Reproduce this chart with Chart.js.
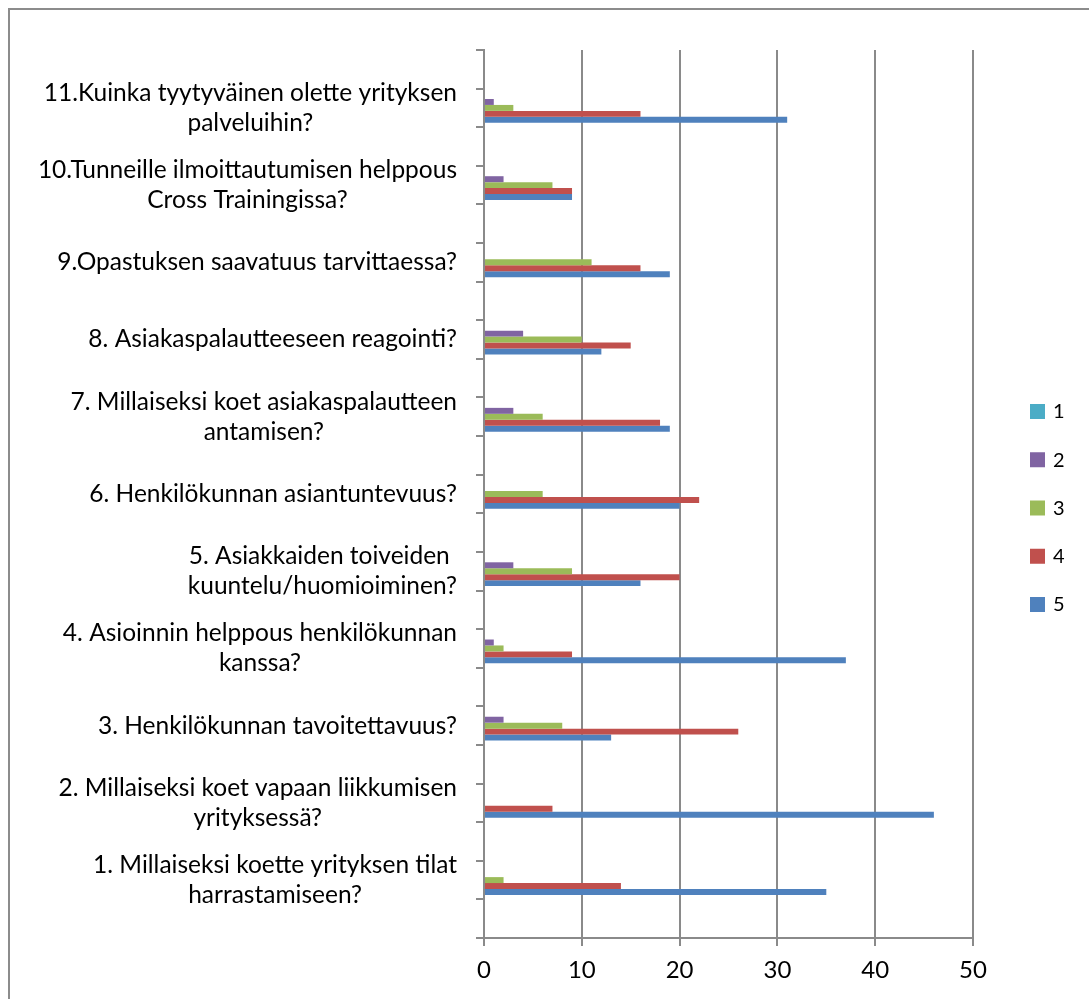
<!DOCTYPE html>
<html>
<head>
<meta charset="utf-8">
<title>Asiakastyytyväisyys</title>
<script src="https://cdn.jsdelivr.net/npm/chart.js@4.4.1/dist/chart.umd.min.js"></script>
<style>
  html, body { margin: 0; padding: 0; background: #fff; overflow: hidden; }
  canvas { position: absolute; left: 0; top: 0; }
  #frame { position: absolute; left: 8px; top: 8px; width: 1200px; height: 1200px; border: 2px solid #8c8c8c; pointer-events: none; }
</style>
</head>
<body>
<canvas id="surveyChart" width="1089" height="999"></canvas>
<div id="frame"></div>
<script>
// questions, top to bottom as they appear in the chart (11 -> 1)
const questions = [
  ["11.Kuinka tyytyväinen olette yrityksen", "palveluihin?"],
  ["10.Tunneille ilmoittautumisen helppous", "Cross Trainingissa?"],
  ["9.Opastuksen saavatuus tarvittaessa?"],
  ["8. Asiakaspalautteeseen reagointi?"],
  ["7. Millaiseksi koet asiakaspalautteen", "antamisen?"],
  ["6. Henkilökunnan asiantuntevuus?"],
  ["5. Asiakkaiden toiveiden ", "kuuntelu/huomioiminen?"],
  ["4. Asioinnin helppous henkilökunnan", "kanssa?"],
  ["3. Henkilökunnan tavoitettavuus?"],
  ["2. Millaiseksi koet vapaan liikkumisen", "yrityksessä?"],
  ["1. Millaiseksi koette yrityksen tilat", "harrastamiseen?"]
];

// answer scale 1..5, number of answers per question (same order as questions)
const answers = ["1", "2", "3", "4", "5"];
const vals1 = [0, 0, 0, 0, 0, 0, 0, 0, 0, 0, 0];
const vals2 = [1, 2, 0, 4, 3, 0, 3, 1, 2, 0, 0];
const vals3 = [3, 7, 11, 10, 6, 6, 9, 2, 8, 0, 2];
const vals4 = [16, 9, 16, 15, 18, 22, 20, 9, 26, 7, 14];
const vals5 = [31, 9, 19, 12, 19, 20, 16, 37, 13, 46, 35];

const xTicks = [0, 10, 20, 30, 40, 50];

const colors = ["#4BACC6", "#8064A2", "#9BBB59", "#C0504D", "#4F81BD"];
const gridColor = "#8a8a8a";
const font = "Lato, 'Open Sans', sans-serif";

// the source sheet had an empty row between questions,
// so every question sits in every other slot
function spaced(arr, blank) {
  const out = [blank];
  arr.forEach(v => { out.push(v); out.push(blank); });
  return out;
}

const labels = spaced(questions, "");
const series = [vals1, vals2, vals3, vals4, vals5];

// category labels: lines centred on each other, block right aligned
const questionLabels = {
  id: "questionLabels",
  afterDraw(chart) {
    const ctx = chart.ctx;
    const yScale = chart.scales.y;
    const right = 457;
    const lineH = 30;
    ctx.save();
    ctx.font = "24.5px " + font;
    ctx.fillStyle = "#000";
    ctx.textAlign = "center";
    ctx.textBaseline = "middle";
    chart.data.labels.forEach((lab, i) => {
      if (!lab) return;
      const lines = Array.isArray(lab) ? lab : [lab];
      const w = Math.max(...lines.map(l => ctx.measureText(l).width));
      const cx = right - w / 2;
      const yc = yScale.getPixelForTick(i);
      const start = yc - (lines.length - 1) * lineH / 2;
      lines.forEach((l, k) => ctx.fillText(l, cx, start + k * lineH));
    });
    ctx.restore();
  }
};

// legend on the right, Excel style
const sideLegend = {
  id: "sideLegend",
  afterDraw(chart) {
    const ctx = chart.ctx;
    ctx.save();
    ctx.font = "20px " + font;
    ctx.textAlign = "left";
    ctx.textBaseline = "middle";
    chart.data.datasets.forEach((ds, i) => {
      const top = 404 + i * 48.25;
      ctx.fillStyle = ds.backgroundColor;
      ctx.fillRect(1030, top, 15, 15);
      ctx.fillStyle = "#000";
      ctx.fillText(ds.label, 1053, top + 8);
    });
    ctx.restore();
  }
};

new Chart(document.getElementById("surveyChart"), {
  type: "bar",
  data: {
    labels: labels,
    datasets: answers.map((a, i) => ({
      label: a,
      data: spaced(series[i], null),
      backgroundColor: colors[i],
      borderWidth: 0,
      barPercentage: 1,
      categoryPercentage: 0.77
    }))
  },
  options: {
    indexAxis: "y",
    responsive: false,
    animation: false,
    layout: { padding: { top: 50, right: 116, bottom: 0, left: 0 } },
    plugins: {
      legend: { display: false },
      tooltip: { enabled: false }
    },
    scales: {
      x: {
        min: 0,
        max: 50,
        afterBuildTicks: s => { s.ticks = xTicks.map(v => ({ value: v })); },
        afterFit: s => { s.height = 61; },
        grid: { color: gridColor, lineWidth: 2, tickLength: 8, drawTicks: true },
        border: { color: gridColor, width: 2 },
        ticks: { color: "#000", font: { family: font, size: 24 }, padding: 10 }
      },
      y: {
        afterFit: s => { s.width = 484; },
        grid: { drawOnChartArea: false, color: gridColor, lineWidth: 2, tickLength: 8 },
        border: { color: gridColor, width: 2 },
        ticks: { display: false }
      }
    }
  },
  plugins: [questionLabels, sideLegend]
});
</script>
</body>
</html>
